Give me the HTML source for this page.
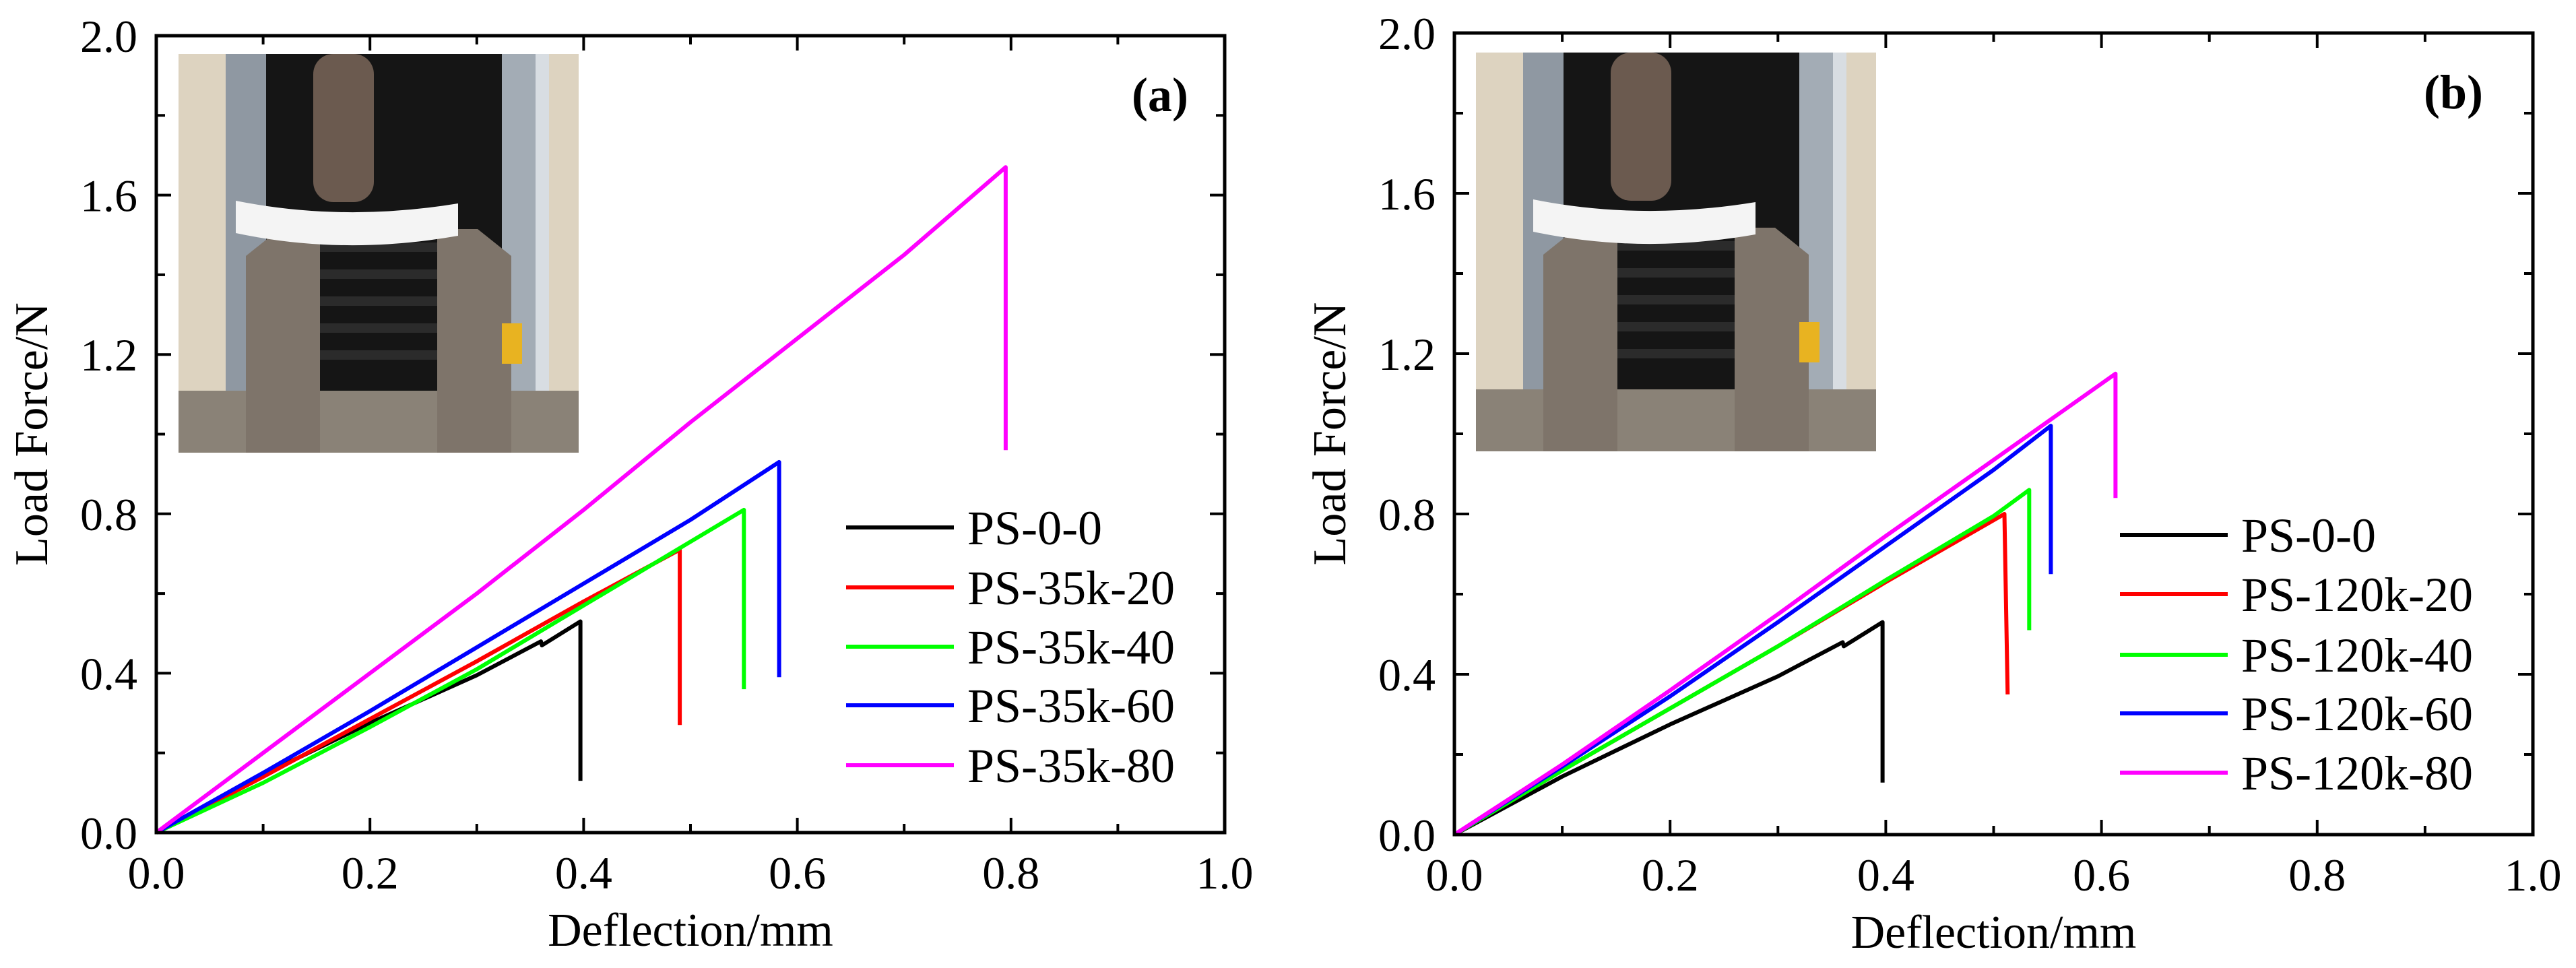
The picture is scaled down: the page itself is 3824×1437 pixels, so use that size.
<!DOCTYPE html>
<html><head><meta charset="utf-8"><style>
html,body{margin:0;padding:0;background:#fff}
svg{display:block}
svg text{font-family:"Liberation Serif","DejaVu Serif",serif;fill:#000}
</style></head><body>
<svg id="fig" width="3824" height="1437" viewBox="0 0 3824 1437" xmlns="http://www.w3.org/2000/svg">
<defs>
<g id="photo">
<rect x="0" y="0" width="594" height="592" fill="#ddd3c0"/>
<rect x="70" y="0" width="60" height="592" fill="#8f98a2"/>
<rect x="480" y="0" width="60" height="592" fill="#a3acb5"/>
<rect x="530" y="0" width="20" height="592" fill="#d8dde2"/>
<rect x="130" y="0" width="350" height="592" fill="#151515"/>
<g fill="#2b2b2b"><rect x="150" y="280" width="310" height="14"/><rect x="150" y="320" width="310" height="14"/><rect x="150" y="360" width="310" height="14"/><rect x="150" y="400" width="310" height="14"/><rect x="150" y="440" width="310" height="14"/></g>
<rect x="0" y="500" width="594" height="92" fill="#8a8277"/>
<path d="M100 592 L100 300 L150 260 L210 260 L210 592 Z" fill="#7e746a"/>
<path d="M494 592 L494 300 L444 260 L384 260 L384 592 Z" fill="#7e746a"/>
<rect x="200" y="0" width="90" height="220" rx="30" fill="#6b5a4f"/>
<path d="M85 218 Q245 250 415 222 L415 270 Q245 300 85 266 Z" fill="#f4f4f4"/>
<rect x="480" y="400" width="30" height="60" fill="#e8b321"/>
</g>
</defs>
</svg>
<script>
// ---------- Panel (a) data ----------
const aNames = ["PS-0-0","PS-35k-20","PS-35k-40","PS-35k-60","PS-35k-80"];
const aX0 = [0,0.1,0.2,0.3,0.36,0.361,0.397,0.397];
const aY0 = [0,0.145,0.275,0.395,0.48,0.47,0.53,0.13];
const aX1 = [0,0.1,0.2,0.3,0.4,0.49,0.49];
const aY1 = [0,0.14,0.285,0.43,0.58,0.71,0.27];
const aX2 = [0,0.1,0.2,0.3,0.4,0.5,0.55,0.55];
const aY2 = [0,0.125,0.265,0.41,0.57,0.73,0.81,0.36];
const aX3 = [0,0.1,0.2,0.3,0.4,0.5,0.583,0.583];
const aY3 = [0,0.15,0.305,0.465,0.625,0.785,0.93,0.39];
const aX4 = [0,0.1,0.2,0.3,0.4,0.5,0.6,0.7,0.795,0.795];
const aY4 = [0,0.2,0.4,0.6,0.81,1.03,1.24,1.45,1.67,0.96];
// ---------- Panel (b) data ----------
const bNames = ["PS-0-0","PS-120k-20","PS-120k-40","PS-120k-60","PS-120k-80"];
const bX0 = [0,0.1,0.2,0.3,0.36,0.361,0.397,0.397];
const bY0 = [0,0.145,0.275,0.395,0.48,0.47,0.53,0.13];
const bX1 = [0,0.1,0.2,0.3,0.4,0.51,0.513];
const bY1 = [0,0.16,0.315,0.47,0.63,0.80,0.35];
const bX2 = [0,0.1,0.2,0.3,0.4,0.5,0.533,0.533];
const bY2 = [0,0.16,0.315,0.47,0.635,0.795,0.86,0.51];
const bX3 = [0,0.1,0.2,0.3,0.4,0.5,0.553,0.553];
const bY3 = [0,0.17,0.345,0.53,0.72,0.91,1.02,0.65];
const bX4 = [0,0.1,0.2,0.3,0.4,0.5,0.613,0.613];
const bY4 = [0,0.175,0.36,0.55,0.745,0.935,1.15,0.84];
const xTicks = [0,0.2,0.4,0.6,0.8,1.0];
const xTickLabels = ["0.0","0.2","0.4","0.6","0.8","1.0"];
const yTicks = [0,0.4,0.8,1.2,1.6,2.0];
const yTickLabels = ["0.0","0.4","0.8","1.2","1.6","2.0"];
const colors = ["#000000","#ff0000","#00ff00","#0000ff","#ff00ff"];

const NS = "http://www.w3.org/2000/svg";
const FONT = '"Liberation Serif", "DejaVu Serif", serif';
const fig = document.getElementById("fig");
function mk(tag, attrs, parent){
  const e = document.createElementNS(NS, tag);
  for (const k in attrs) e.setAttribute(k, attrs[k]);
  if (tag === "text") e.setAttribute("font-family", FONT);
  (parent||fig).appendChild(e);
  return e;
}
function panel(id, L, R, T, B, xs, ys, names, tag, photoX, photoY, legX, legRows, tagX){
  const g = mk("g", {});
  
  
  const sx = v => L + v * (R - L);
  const sy = v => B - v / 2 * (B - T);
  const ph = mk("use", {href:"#photo", x:photoX, y:photoY}, g);
  
  
  for (let i = 0; i < 5; i++){
    const pts = xs[i].map((x, j) => sx(x).toFixed(1) + "," + sy(ys[i][j]).toFixed(1)).join(" ");
    const pl = mk("polyline", {points:pts, fill:"none", stroke:colors[i], "stroke-width":6, "stroke-linejoin":"round"}, g);
    
    
  }
  const fr = mk("rect", {x:L, y:T, width:R-L, height:B-T, fill:"none", stroke:"#000", "stroke-width":5}, g);
  
  
  for (let i = 0; i <= 10; i++){
    const v = i / 10, x = sx(v), len = (i % 2 === 0) ? 22 : 13;
    mk("line", {x1:x, y1:B, x2:x, y2:B-len, stroke:"#000", "stroke-width":4}, g);
    mk("line", {x1:x, y1:T, x2:x, y2:T+len, stroke:"#000", "stroke-width":4}, g);
  }
  for (let i = 0; i < xTicks.length; i++){
    const t = mk("text", {x:sx(xTicks[i]), y:B+83, "font-size":68, "text-anchor":"middle"}, g);
    t.textContent = xTickLabels[i];
    
    
  }
  for (let i = 0; i <= 10; i++){
    const v = i * 0.2, y = sy(v), len = (i % 2 === 0) ? 22 : 13;
    mk("line", {x1:L, y1:y, x2:L+len, y2:y, stroke:"#000", "stroke-width":4}, g);
    mk("line", {x1:R, y1:y, x2:R-len, y2:y, stroke:"#000", "stroke-width":4}, g);
  }
  for (let i = 0; i < yTicks.length; i++){
    const t = mk("text", {x:L-28, y:sy(yTicks[i])+24, "font-size":68, "text-anchor":"end"}, g);
    t.textContent = yTickLabels[i];
    
    
  }
  const xt = mk("text", {x:(L+R)/2, y:B+168, "font-size":70, "text-anchor":"middle"}, g);
  xt.textContent = "Deflection/mm";
  
  
  const yx = L - 162, yy = (T+B)/2;
  const yt = mk("text", {x:yx, y:yy, "font-size":70, "text-anchor":"middle", transform:"rotate(-90 "+yx+" "+yy+")"}, g);
  yt.textContent = "Load Force/N";
  
  
  const pt = mk("text", {x:tagX, y:T+112, "font-size":72, "font-weight":"bold", "text-anchor":"middle"}, g);
  pt.textContent = tag;
  
  
  for (let i = 0; i < 5; i++){
    const y = legRows[i];
    const le = mk("g", {}, g);
    
    
    mk("line", {x1:legX, y1:y, x2:legX+160, y2:y, stroke:colors[i], "stroke-width":6}, le);
    const lt = mk("text", {x:legX+180, y:y+25, "font-size":72}, le);
    lt.textContent = names[i];
  }
}
panel("a", 232, 1818, 53, 1236,
  [aX0,aX1,aX2,aX3,aX4], [aY0,aY1,aY2,aY3,aY4], aNames, "(a)",
  265, 80, 1256, [783,872,960,1047,1136], 1722);
panel("b", 2159, 3760, 49, 1239,
  [bX0,bX1,bX2,bX3,bX4], [bY0,bY1,bY2,bY3,bY4], bNames, "(b)",
  2191, 78, 3147, [794,882,972,1059,1147], 3642);
</script>
</body></html>
